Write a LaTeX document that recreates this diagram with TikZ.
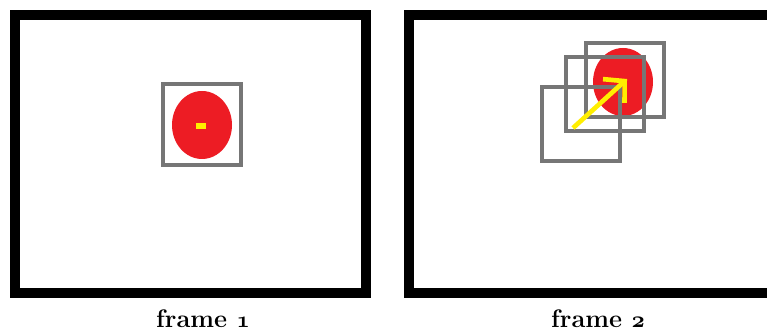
\documentclass[tikz,border=0pt]{standalone}
\usepackage{tikz}
\usetikzlibrary{arrows.meta,positioning,shapes.geometric}
\definecolor{blobred}{RGB}{237,28,36}
\definecolor{markyellow}{RGB}{255,238,0}
\definecolor{boxgray}{RGB}{118,118,118}
\newcommand{\boldold}[1]{{\usefont{OML}{cmm}{b}{it}#1}}

\begin{document}
\begin{tikzpicture}[x=0.75pt, y=-0.75pt,
  framebox/.style={draw=black, line width=7pt},
  trackbox/.style={rectangle, draw=boxgray, line width=3pt, inner sep=0pt, minimum width=58.5pt, minimum height=55.5pt},
  blob/.style={ellipse, fill=blobred, inner sep=0pt, minimum width=45pt, minimum height=51pt},
  framelabel/.style={font=\fontsize{19}{21}\selectfont\bfseries, anchor=base}]
  \useasboundingbox (0,0) rectangle (767,331);
  \clip (0,0) rectangle (767,331);

  % frame 1
  \draw[framebox] (15,15) rectangle (366,293);
  \node[blob] (r1) at (202,125) {};
  \node[rectangle, fill=markyellow, inner sep=0pt, minimum width=7.5pt, minimum height=4.5pt] (y1) at (201,126) {};
  \node[trackbox, minimum height=60.75pt] (b1) at (202,124.5) {};
  \node[framelabel] (t1) at (203,327) {frame \boldold{1}};

  % frame 2
  \draw[framebox] (409,15) rectangle (800,293);
  \node[blob] (r2) at (623,82) {};
  \node[trackbox] (a) at (625,80) {};
  \node[trackbox] (b) at (604.5,94.5) {};
  \node[trackbox] (c) at (580.5,124.5) {};
  \coordinate (s) at (573,128);
  \coordinate (e) at (627,79);
  \draw[markyellow, line width=3.5pt, -{Straight Barb[length=11pt, width=24pt, line join=miter, line cap=butt]}] (s) -- (e);
  \node[framelabel] (t2) at (598,327) {frame \boldold{2}};
\end{tikzpicture}
\end{document}
